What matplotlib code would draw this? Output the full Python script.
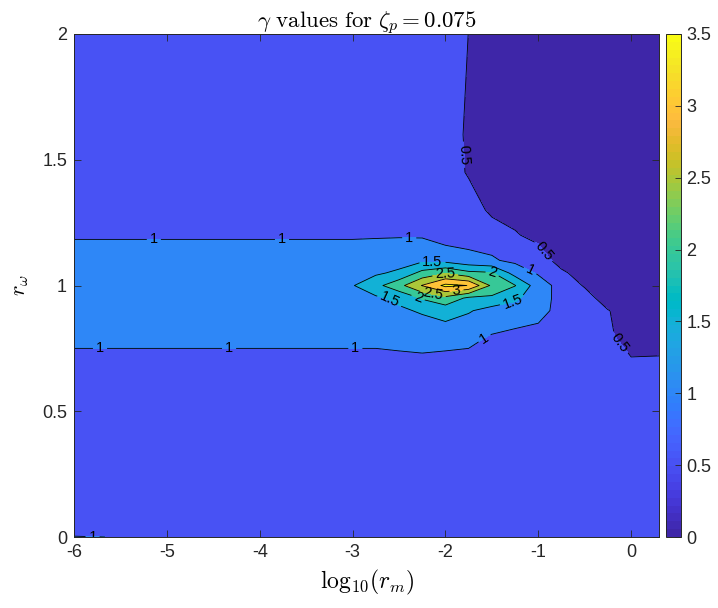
import numpy as np
import matplotlib
matplotlib.use("Agg")
import matplotlib.pyplot as plt
from matplotlib.colors import ListedColormap, Normalize
from matplotlib.cm import ScalarMappable

# ---------------------------------------------------------------- data
# grid of log10(r_m) samples
log_rm = [-6.0, -5.0, -3.5, -3.0, -2.75, -2.5, -2.25, -2.0, -1.75,
          -1.5, -1.25, -1.0, -0.75, -0.5, -0.25, 0.0, 0.3]
# grid of r_omega samples
r_omega = [0.0, 0.03, 0.7, 0.8, 0.9, 0.95, 1.0, 1.05, 1.1, 1.2, 1.3, 1.45, 1.6, 2.0]

# gamma(r_omega, log10 r_m): one row per r_omega value
gamma_rows = [
    # r_omega = 0.0
    [1.05, 0.90, 0.85, 0.80, 0.80, 0.80, 0.80, 0.80, 0.80, 0.80, 0.80, 0.80, 0.80, 0.80, 0.80, 0.75, 0.75],
    # r_omega = 0.03
    [0.60, 0.80, 0.85, 0.80, 0.80, 0.80, 0.80, 0.80, 0.80, 0.80, 0.80, 0.80, 0.80, 0.80, 0.80, 0.75, 0.75],
    # r_omega = 0.7
    [0.90, 0.90, 0.90, 0.90, 0.90, 0.90, 0.90, 0.86, 0.90, 0.90, 0.90, 0.90, 0.90, 0.85, 0.75, 0.538, 0.55],
    # r_omega = 0.8
    [1.10, 1.10, 1.10, 1.10, 1.10, 1.15, 1.22, 1.21, 1.10, 0.98, 0.90, 0.85, 0.80, 0.80, 0.578, 0.30, 0.30],
    # r_omega = 0.9
    [1.20, 1.20, 1.20, 1.20, 1.25, 1.43, 1.55, 1.72, 1.55, 1.30, 1.25, 1.15, 0.85, 0.75, 0.52, 0.30, 0.30],
    # r_omega = 0.95
    [1.22, 1.22, 1.22, 1.30, 1.42, 1.60, 2.05, 2.35, 1.90, 1.90, 1.60, 1.20, 0.85, 0.70, 0.265, 0.30, 0.30],
    # r_omega = 1.0
    [1.22, 1.22, 1.22, 1.47, 1.85, 2.34, 3.02, 3.62, 3.49, 2.40, 2.02, 1.23, 0.83, 0.455, 0.30, 0.28, 0.28],
    # r_omega = 1.05
    [1.22, 1.22, 1.22, 1.30, 1.42, 1.60, 2.15, 2.45, 2.12, 2.05, 1.30, 0.95, 0.60, 0.25, 0.30, 0.30, 0.30],
    # r_omega = 1.1
    [1.15, 1.15, 1.15, 1.15, 1.20, 1.27, 1.40, 1.33, 1.15, 1.05, 0.90, 0.80, 0.27, 0.30, 0.30, 0.30, 0.30],
    # r_omega = 1.2
    [0.97, 0.97, 0.97, 0.97, 0.97, 0.97, 0.95, 0.78, 0.80, 0.80, 0.55, 0.34, 0.30, 0.30, 0.30, 0.30, 0.30],
    # r_omega = 1.3
    [0.80, 0.80, 0.80, 0.80, 0.80, 0.80, 0.80, 0.80, 0.80, 0.383, 0.30, 0.30, 0.30, 0.30, 0.30, 0.30, 0.30],
    # r_omega = 1.45
    [0.80, 0.80, 0.80, 0.80, 0.80, 0.80, 0.80, 0.80, 0.443, 0.30, 0.30, 0.30, 0.30, 0.30, 0.30, 0.30, 0.30],
    # r_omega = 1.6
    [0.80, 0.80, 0.80, 0.80, 0.80, 0.80, 0.80, 0.80, 0.405, 0.30, 0.30, 0.30, 0.30, 0.30, 0.30, 0.30, 0.30],
    # r_omega = 2.0
    [0.80, 0.80, 0.80, 0.80, 0.80, 0.80, 0.80, 0.80, 0.494, 0.30, 0.30, 0.30, 0.30, 0.30, 0.30, 0.30, 0.30],
]

contour_levels = [0.5, 1.0, 1.5, 2.0, 2.5, 3.0, 3.5]
x_ticks = [-6, -5, -4, -3, -2, -1, 0]
y_ticks = [0, 0.5, 1, 1.5, 2]
cbar_ticks = [0, 0.5, 1, 1.5, 2, 2.5, 3, 3.5]

# where the inline contour labels sit
label_spots = [
    (-5.14, 1.185), (-3.76, 1.185), (-2.39, 1.185),
    (-5.72, 0.7475), (-4.33, 0.7475), (-2.97, 0.7475), (-1.56, 0.78),
    (-1.09, 1.058),
    (-2.14, 1.088), (-2.62, 0.93), (-1.27, 0.925),
    (-1.49, 1.054), (-2.30, 0.945),
    (-2.00, 1.046), (-2.14, 0.956),
    (-1.88, 0.978),
    (-1.80, 1.52), (-0.98, 1.125), (-0.13, 0.77),
    (-5.80, 0.004),
]

# ---------------------------------------------------------------- colormap
parula_rgb = [
    [0.2422, 0.1504, 0.6603], [0.2504, 0.1650, 0.7076], [0.2578, 0.1818, 0.7511],
    [0.2647, 0.1978, 0.7952], [0.2706, 0.2147, 0.8364], [0.2751, 0.2342, 0.8710],
    [0.2783, 0.2559, 0.8991], [0.2803, 0.2782, 0.9221], [0.2813, 0.3006, 0.9414],
    [0.2810, 0.3228, 0.9579], [0.2795, 0.3447, 0.9717], [0.2760, 0.3667, 0.9829],
    [0.2699, 0.3892, 0.9906], [0.2602, 0.4123, 0.9952], [0.2440, 0.4358, 0.9988],
    [0.2206, 0.4603, 0.9973], [0.1963, 0.4847, 0.9892], [0.1834, 0.5074, 0.9798],
    [0.1786, 0.5289, 0.9682], [0.1764, 0.5499, 0.9520], [0.1687, 0.5703, 0.9359],
    [0.1540, 0.5902, 0.9218], [0.1460, 0.6091, 0.9079], [0.1380, 0.6276, 0.8973],
    [0.1248, 0.6459, 0.8883], [0.1113, 0.6635, 0.8763], [0.0952, 0.6798, 0.8598],
    [0.0689, 0.6948, 0.8394], [0.0297, 0.7082, 0.8163], [0.0036, 0.7203, 0.7917],
    [0.0067, 0.7312, 0.7660], [0.0433, 0.7411, 0.7394], [0.0964, 0.7500, 0.7120],
    [0.1408, 0.7584, 0.6842], [0.1717, 0.7670, 0.6554], [0.1938, 0.7758, 0.6251],
    [0.2161, 0.7843, 0.5923], [0.2470, 0.7918, 0.5567], [0.2906, 0.7973, 0.5188],
    [0.3406, 0.8008, 0.4789], [0.3909, 0.8029, 0.4354], [0.4456, 0.8024, 0.3909],
    [0.5044, 0.7993, 0.3480], [0.5616, 0.7942, 0.3045], [0.6174, 0.7876, 0.2612],
    [0.6720, 0.7793, 0.2227], [0.7242, 0.7698, 0.1910], [0.7738, 0.7598, 0.1646],
    [0.8203, 0.7498, 0.1535], [0.8634, 0.7406, 0.1596], [0.9035, 0.7330, 0.1774],
    [0.9393, 0.7288, 0.2100], [0.9728, 0.7298, 0.2394], [0.9956, 0.7434, 0.2371],
    [0.9970, 0.7659, 0.2199], [0.9952, 0.7893, 0.2028], [0.9892, 0.8136, 0.1885],
    [0.9786, 0.8386, 0.1766], [0.9676, 0.8639, 0.1643], [0.9610, 0.8890, 0.1537],
    [0.9597, 0.9135, 0.1423], [0.9628, 0.9373, 0.1265], [0.9691, 0.9606, 0.1064],
    [0.9769, 0.9839, 0.0805],
]
parula = ListedColormap(parula_rgb, name="parula")
cmin, cmax = 0.0, 3.5

# each filled band takes the colour of its lower level
fill_bounds = [0.0] + contour_levels + [10.0]
band_colors = [parula(min(int((lv - cmin) / (cmax - cmin) * 64), 63)) for lv in fill_bounds[:-1]]

plt.rcParams["mathtext.fontset"] = "cm"
plt.rcParams["font.family"] = ["Liberation Sans", "DejaVu Sans"]

X, Y = np.meshgrid(np.array(log_rm), np.array(r_omega))
Z = np.array(gamma_rows)

fig = plt.figure(figsize=(7.18, 6.08), dpi=100)
ax = fig.add_axes([74 / 718, 71 / 608, 585 / 718, 503 / 608])
cax = fig.add_axes([666 / 718, 71 / 608, 15 / 718, 503 / 608])

ax.contourf(X, Y, Z, levels=fill_bounds, colors=band_colors)
cs = ax.contour(X, Y, Z, levels=contour_levels, colors="k", linewidths=0.6)
ax.clabel(cs, fmt="%g", fontsize=10.5, inline=True, inline_spacing=3,
          manual=label_spots)

ax.set_xlim(-6, 0.3)
ax.set_ylim(0, 2)
ax.set_xticks(x_ticks)
ax.set_xticklabels([f"{t:g}" for t in x_ticks])
ax.set_yticks(y_ticks)
ax.set_yticklabels([f"{t:g}" for t in y_ticks])
ax.tick_params(direction="in", length=5, width=0.6, colors="#262626",
               labelsize=13, top=True, right=True, pad=5)
for s in ax.spines.values():
    s.set_linewidth(0.7)
    s.set_color("#262626")

ax.set_title(r"$\gamma\ \mathrm{values\ for}\ \zeta_p = 0.075$", fontsize=16.5, pad=4)
ax.set_xlabel(r"$\mathrm{log}_{10}(r_m)$", fontsize=17, labelpad=5)
ax.set_ylabel(r"$r_\omega$", fontsize=16, labelpad=8)

sm = ScalarMappable(norm=Normalize(cmin, cmax), cmap=parula)
cb = fig.colorbar(sm, cax=cax, ticks=cbar_ticks)
cb.ax.set_yticklabels([f"{t:g}" for t in cbar_ticks])
cb.ax.tick_params(direction="in", length=4, width=0.6, colors="#262626",
                  labelsize=13, pad=4)
cb.outline.set_linewidth(0.7)
cb.outline.set_edgecolor("#262626")

fig.savefig("out.png", dpi=100)
